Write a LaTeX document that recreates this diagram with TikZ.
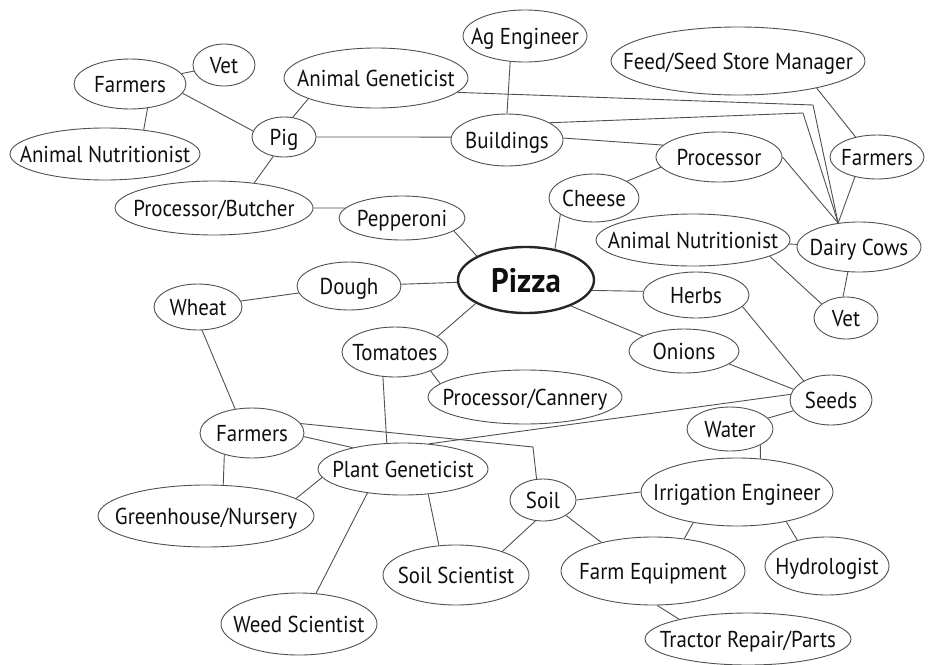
\documentclass[tikz,border=0pt]{standalone}
\usepackage{fontspec}
\setmainfont{PT Sans}[FakeStretch=0.91]
\usetikzlibrary{shapes.geometric}
\begin{document}
\begin{tikzpicture}[x=1pt,y=-1pt]
\definecolor{edgegray}{RGB}{80,80,80}
\definecolor{inkgray}{RGB}{15,15,15}
\tikzset{
  bub/.style 2 args={ellipse, draw=edgegray, line width=0.9pt,
    minimum width=#1pt, minimum height=#2pt, inner sep=0pt,
    text=inkgray, font=\fontsize{23}{26}\selectfont,
    text height=16pt, text depth=0pt,
    execute at begin node={\hbox to 0pt\bgroup\hss},
    execute at end node={\hss\egroup}},
  hub/.style={line width=2.4pt, draw=black!85,
    font=\fontsize{34}{36}\selectfont\bfseries, text height=24pt},
  link/.style={draw=edgegray, line width=0.9pt}
}
\useasboundingbox (0,0) rectangle (928,664);

% livestock branch
\node[bub={62}{42}]   (vetA)  at (224,65)  {Vet};
\node[bub={112}{50}]  (farA)  at (130,84)  {Farmers};
\node[bub={190}{52}]  (anA)   at (105,154) {Animal Nutritionist};
\node[bub={184}{60}]  (agen)  at (376,78)  {Animal Geneticist};
\node[bub={64}{40}]   (pig)   at (284,137) {Pig};
\node[bub={198}{54}]  (pb)    at (214,208) {Processor/Butcher};
\node[bub={126}{44}]  (pep)   at (402,218) {Pepperoni};
\node[bub={124}{52}]  (ageng) at (525,36)  {Ag Engineer};
\node[bub={254}{68}]  (fssm)  at (738,61)  {Feed/Seed Store Manager};
\node[bub={112}{52}]  (bld)   at (507,140) {Buildings};
\node[bub={126}{50}]  (proc)  at (719,157) {Processor};
\node[bub={94}{44}]   (farR)  at (877,157) {Farmers};
\node[bub={90}{48}]   (chs)   at (594,198) {Cheese};
\node[bub={124}{50}]  (dc)    at (859,247) {Dairy Cows};
\node[bub={194}{52}]  (anR)   at (693,240) {Animal Nutritionist};
\node[bub={64}{42}]   (vetR)  at (846,318) {Vet};

% centre
\node[bub={136}{66},hub] (pizza) at (526,280) {Pizza};

% crop branch
\node[bub={106}{46}]  (herbs) at (696,295) {Herbs};
\node[bub={104}{48}]  (dough) at (349,286) {Dough};
\node[bub={88}{46}]   (wheat) at (198,307) {Wheat};
\node[bub={106}{50}]  (tom)   at (395,352) {Tomatoes};
\node[bub={194}{54}]  (pc)    at (525,397) {Processor/Cannery};
\node[bub={110}{44}]  (onions) at (684,351) {Onions};
\node[bub={82}{50}]   (seeds) at (831,400) {Seeds};
\node[bub={86}{44}]   (water) at (730,429) {Water};
\node[bub={104}{50}]  (farB)  at (252,433) {Farmers};
\node[bub={170}{52}]  (pg)    at (403,469) {Plant Geneticist};
\node[bub={216}{62}]  (gh)    at (206,516) {Greenhouse/Nursery};
\node[bub={66}{42}]   (soil)  at (543,500) {Soil};
\node[bub={192}{68}]  (irr)   at (737,492) {Irrigation Engineer};
\node[bub={146}{60}]  (ss)    at (456,575) {Soil Scientist};
\node[bub={184}{68}]  (fe)    at (653,571) {Farm Equipment};
\node[bub={124}{58}]  (hyd)   at (827,566) {Hydrologist};
\node[bub={206}{52}]  (trp)   at (748,639) {Tractor Repair/Parts};
\node[bub={156}{62}]  (weed)  at (299,624) {Weed Scientist};

% bend points of the elbowed connectors
\coordinate (bendA) at (813,105);
\coordinate (bendB) at (803,113);
\coordinate (bendC) at (533,447);

% connectors
\draw[link] (farA) -- (vetA);
\draw[link] (farA.-54) -- (anA.32);
\draw[link] (farA.-10) -- (pig.169);
\draw[link] (pig.66) -- (agen.197);
\draw[link] (pig.east) -- (bld.177);
\draw[link] (pig.241) -- (pb.32);
\draw[link] (pb.east) -- (pep.170);
\draw[link] (pep.-14) -- (pizza.154);
\draw[link] (ageng.240) -- (bld.north);
\draw[link] (agen.-10) -- (bendA) -- (dc.131);
\draw[link] (bld.22) -- (bendB) -- (dc.131);
\draw[link] (bld.2) -- (proc.168);
\draw[link] (proc.east) -- (dc.131);
\draw[link] (proc.190) -- (chs.27);
\draw[link] (chs.206) -- (pizza.47);
\draw[link] (fssm.-19) -- (farR.137);
\draw[link] (farR.222) -- (dc.131);
\draw[link] (anR) -- (dc);
\draw[link] (anR.-12) -- (vetR.150);
\draw[link] (dc.246) -- (vetR.98);
\draw[link] (pizza.-9) -- (herbs.176);
\draw[link] (pizza.-30) -- (onions.160);
\draw[link] (dough) -- (pizza);
\draw[link] (tom.20) -- (pizza.205);
\draw[link] (wheat) -- (dough);
\draw[link] (wheat.-80) -- (farB.125);
\draw[link] (tom.-28) -- (pc.171);
\draw[link] (tom.244) -- (pg.122);
\draw[link] (herbs.-14) -- (seeds.145);
\draw[link] (onions.-16) -- (seeds.164);
\draw[link] (seeds.172) -- (pg.44);
\draw[link] (seeds) -- (water);
\draw[link] (water.-28) -- (irr.55);
\draw[link] (farB.-4) -- (pg.157);
\draw[link] (farB.11) -- (bendC) -- (soil.107);
\draw[link] (farB.218) -- (gh.61);
\draw[link] (pg.186) -- (gh.11);
\draw[link] (pg.214) -- (weed.61);
\draw[link] (pg.-45) -- (ss.120);
\draw[link] (soil.250) -- (ss.27.5);
\draw[link] (soil.-34) -- (fe.151);
\draw[link] (soil.east) -- (irr.west);
\draw[link] (irr.215) -- (fe.46);
\draw[link] (irr.-31.5) -- (hyd.139);
\draw[link] (fe.-83) -- (trp.164);
\end{tikzpicture}
\end{document}
